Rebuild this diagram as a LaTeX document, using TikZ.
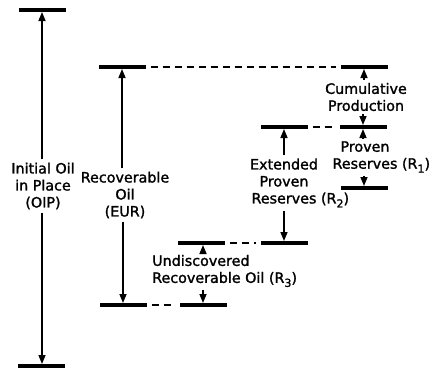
\documentclass[tikz,border=0pt]{standalone}
\usepackage{fontspec}
\setmainfont{DejaVu Sans}
\newfontfamily\lblfont{DejaVu Sans}[FakeBold=1.5]
\usetikzlibrary{arrows.meta}
\newcommand{\rsub}[1]{\raisebox{-4pt}{\fontsize{11}{11}\selectfont #1}}
\begin{document}
\begin{tikzpicture}[x=1pt,y=-1pt,
  bar/.style={rectangle,fill=black,minimum width=47pt,minimum height=4pt,inner sep=0pt,outer sep=0pt},
  lbl/.style={align=center,font=\lblfont\fontsize{14.3}{17}\selectfont,inner sep=3pt},
  arr/.style={line width=1.5pt,-{Triangle[length=9pt,width=7pt]}},
  dashline/.style={line width=1.8pt,dash pattern=on 7pt off 5pt,shorten <=5pt,shorten >=5pt}]
\useasboundingbox (0,0) rectangle (432,370);
% bars
\node[bar] (oipT) at (42,10) {};
\node[bar] (oipB) at (41,366) {};
\node[bar] (eurT) at (122,67) {};
\node[bar] (eurB) at (123,305) {};
\node[bar] (cumT) at (364,67) {};
\node[bar] (prT) at (363,127) {};
\node[bar] (prB) at (364,188) {};
\node[bar] (extT) at (284,127) {};
\node[bar] (extB) at (284,243) {};
\node[bar] (undT) at (201,243) {};
\node[bar] (undB) at (203,305) {};
% labels
\node[lbl] (oipL) at (43,186) {Initial Oil\\in Place\\(OIP)};
\node[lbl] (eurL) at (125,195) {Recoverable\\Oil\\(EUR)};
\node[lbl] (cumL) at (366,97) {Cumulative\\Production};
\node[lbl] (prL) at (365,157) {Proven\\Reserves\rlap{ (R\rsub{1})}};
\node[lbl] (extL) at (284,183) {Extended\\Proven\\Reserves\rlap{ (R\rsub{2})}};
\node[lbl,align=left,anchor=west] (undL) at (149,271) {Undiscovered\\Recoverable Oil (R\rsub{3})};
% arrows
\draw[arr] (oipL.north -| oipT) -- (oipT.south);
\draw[arr] (oipL.south -| oipT) -- (oipB.north -| oipT);
\draw[arr] (eurL.north -| eurT) -- (eurT.south);
\draw[arr] (eurL.south -| eurB) -- (eurB.north);
\draw[arr] (cumL.north -| cumT) -- (cumT.south);
\draw[arr] (cumL.south -| prT) -- (prT.north);
\draw[arr] (prL.north -| prT) -- (prT.south);
\draw[arr] (prL.south -| prB) -- (prB.north);
\draw[arr] (extL.north -| extT) -- (extT.south);
\draw[arr] (extL.south -| extB) -- (extB.north);
\draw[arr] (undL.north -| undB) -- (undT.south -| undB);
\draw[arr] (undL.south -| undB) -- (undB.north);
% dashed links
\draw[dashline] (eurT.east) -- (cumT.west);
\draw[dashline] (extT.east) -- (prT.west);
\draw[dashline] (undT.east) -- (extB.west);
\draw[dashline] (eurB.east) -- (undB.west);
\end{tikzpicture}
\end{document}
